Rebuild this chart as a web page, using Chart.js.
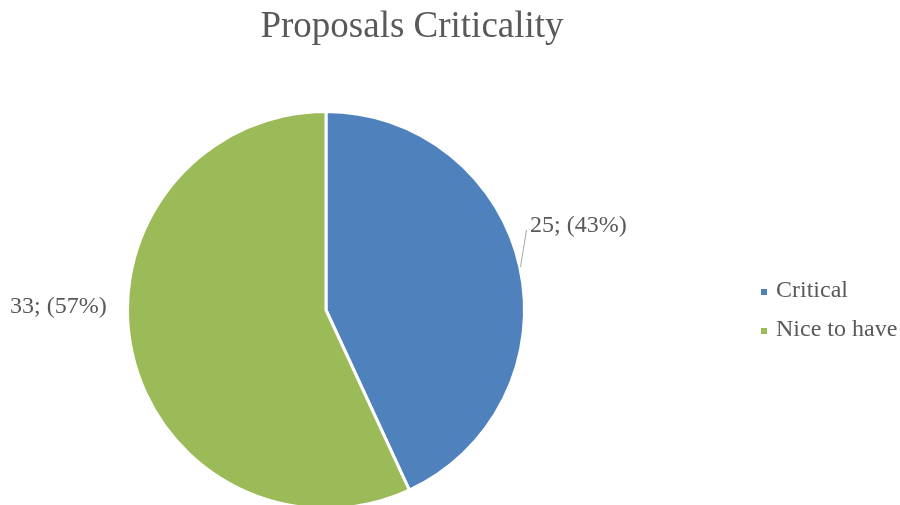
<!DOCTYPE html>
<html lang="en">
<head>
    <meta charset="UTF-8">
    <title>Proposals Criticality</title>
    <style>
        html, body { margin: 0; padding: 0; background: #fff; overflow: hidden; }
        .chart-wrapper { position: relative; width: 900px; height: 505px; }
    </style>
</head>
<body>
    <div class="chart-wrapper">
        <canvas id="criticality-chart" width="900" height="505"></canvas>
    </div>

    <script src="https://cdn.jsdelivr.net/npm/chart.js"></script>
    <script>
        const chartTitle = 'Proposals Criticality';
        const categories = ['Critical', 'Nice to have'];
        const counts = [25, 33];
        const sliceColors = ['#4F81BD', '#9BBB59'];

        const serif = '"Liberation Serif", "Times New Roman", serif';
        const textColor = '#595959';

        // title, value labels and legend are painted on top of the pie
        const annotations = {
            id: 'annotations',
            afterDraw(chart) {
                const ctx = chart.ctx;
                const total = counts.reduce((a, b) => a + b, 0);
                ctx.save();

                ctx.fillStyle = textColor;
                ctx.font = '37px ' + serif;
                ctx.textAlign = 'center';
                ctx.textBaseline = 'alphabetic';
                ctx.fillText(chartTitle, 412, 37);

                // value labels placed outside each slice
                ctx.font = '24px ' + serif;
                ctx.textAlign = 'left';
                const arcs = chart.getDatasetMeta(0).data;
                const labelPos = [{ x: 530, y: 232 }, { x: 10, y: 313 }];
                arcs.forEach((arc, i) => {
                    const pct = Math.round(counts[i] / total * 100);
                    ctx.fillText(counts[i] + '; (' + pct + '%)', labelPos[i].x, labelPos[i].y);
                });

                // leader line for the Critical label
                ctx.strokeStyle = '#A6A6A6';
                ctx.lineWidth = 1;
                ctx.beginPath();
                ctx.moveTo(520.5, 267);
                ctx.lineTo(526.5, 230);
                ctx.stroke();

                // legend
                const legendY = [297, 336];
                categories.forEach((name, i) => {
                    ctx.fillStyle = sliceColors[i];
                    ctx.fillRect(761, legendY[i] - 8, 6, 6);
                    ctx.fillStyle = textColor;
                    ctx.fillText(name, 776, legendY[i]);
                });

                ctx.restore();
            }
        };

        new Chart(document.getElementById('criticality-chart'), {
            type: 'pie',
            data: {
                labels: categories,
                datasets: [{
                    data: counts,
                    backgroundColor: sliceColors,
                    borderColor: '#ffffff',
                    borderWidth: 3,
                    hoverOffset: 0
                }]
            },
            options: {
                responsive: false,
                animation: false,
                radius: 198.5,
                layout: {
                    padding: { left: 0, right: 248, top: 115, bottom: 0 }
                },
                plugins: {
                    legend: { display: false },
                    title: { display: false },
                    tooltip: { enabled: false }
                }
            },
            plugins: [annotations]
        });
    </script>
</body>
</html>
